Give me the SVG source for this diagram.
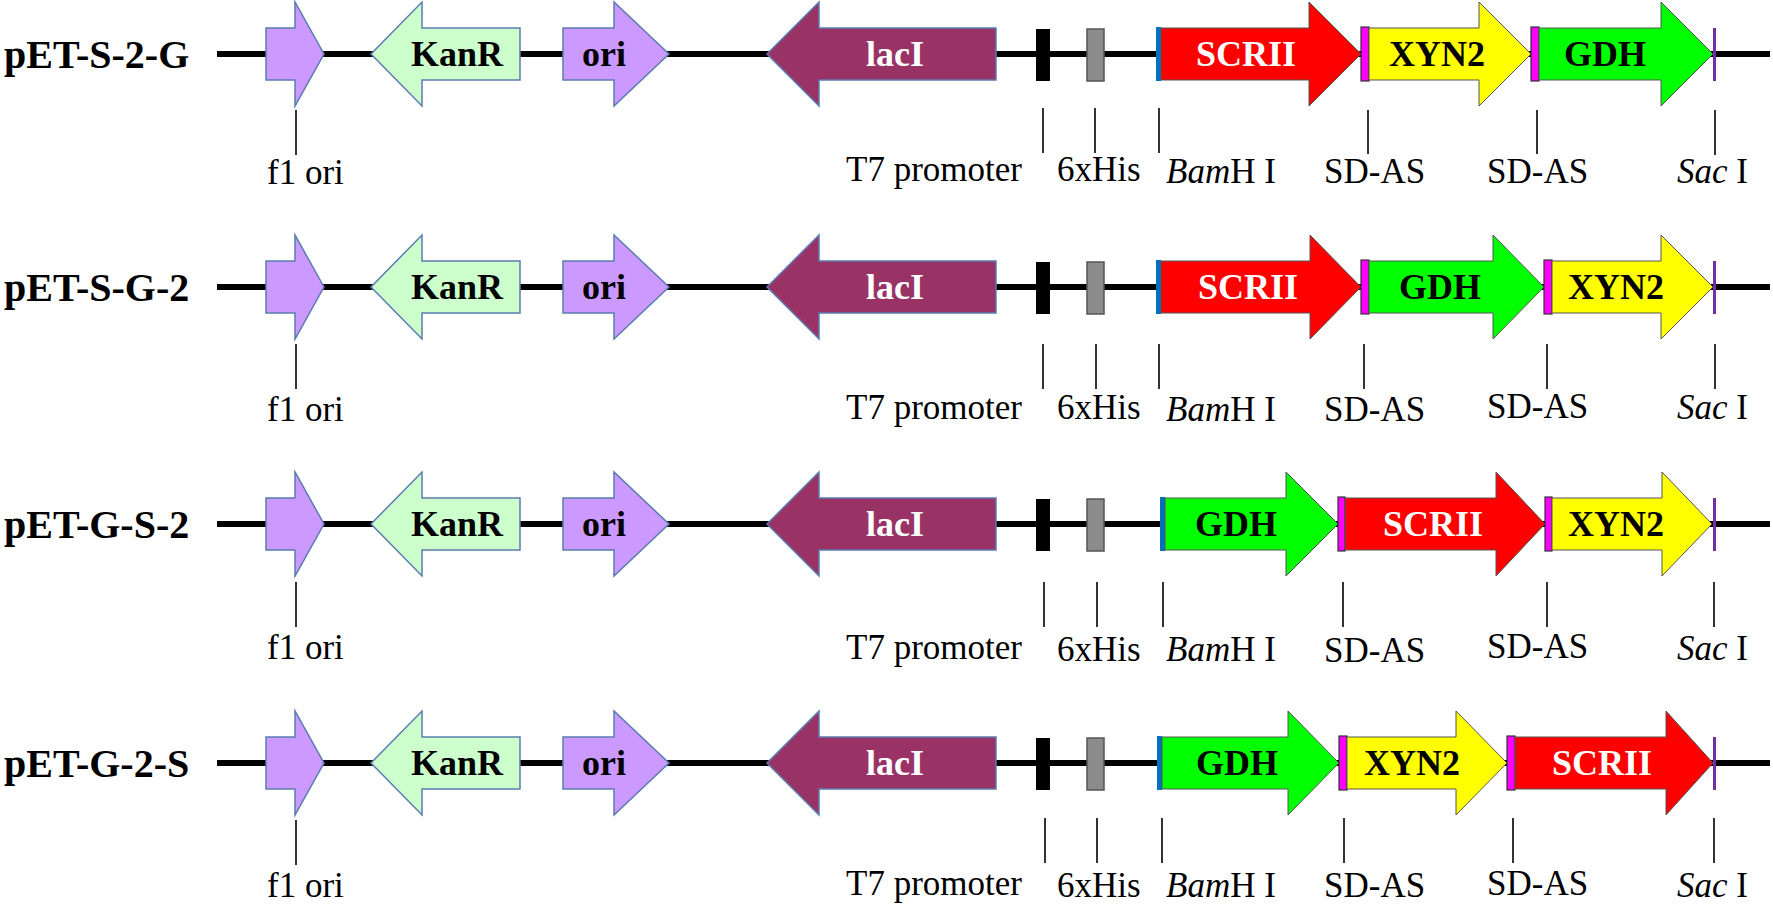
<svg xmlns="http://www.w3.org/2000/svg" width="1773" height="907" viewBox="0 0 1773 907">
<style>
.bb{stroke:#000;stroke-width:6;fill:none}
.tick{stroke:#333;stroke-width:2}
.lav{fill:#cc99ff;stroke:#5a7cb0;stroke-width:1.5}
.kan{fill:#ccffcc;stroke:#5a7cb0;stroke-width:1.5}
.lac{fill:#993366;stroke:#5a7cb0;stroke-width:1.5}
.red{fill:#ff0000;stroke:#555;stroke-width:1}
.yel{fill:#ffff00;stroke:#555;stroke-width:1}
.grn{fill:#00ff00;stroke:#555;stroke-width:1}
.mag{fill:#ff00ff;stroke:#333;stroke-width:1.2}
.bam{fill:#0070c0}
.sac{fill:#7030a0}
.t7{fill:#000}
.his{fill:#8c8c8c;stroke:#555;stroke-width:1.5}
.rl{font-family:"Liberation Serif","Times New Roman",serif;font-weight:bold;font-size:40px;fill:#000}
.gl{font-family:"Liberation Serif","Times New Roman",serif;font-weight:bold;font-size:36px;text-anchor:middle;fill:#000}
.gw{fill:#fff}
.ll{font-family:"Liberation Serif","Times New Roman",serif;font-size:35px;fill:#000}
.it{font-style:italic}
</style>

<g id="connectors">
<line class="bb" x1="217" y1="54" x2="1770" y2="54"/>
<line class="bb" x1="217" y1="287" x2="1770" y2="287"/>
<line class="bb" x1="217" y1="524" x2="1770" y2="524"/>
<line class="bb" x1="217" y1="763" x2="1770" y2="763"/>
<g class="tick">
<line x1="296" y1="110" x2="296" y2="155"/><line x1="1043" y1="108" x2="1043" y2="153"/><line x1="1095" y1="108" x2="1095" y2="153"/><line x1="1159" y1="108" x2="1159" y2="153"/><line x1="1368" y1="110" x2="1368" y2="154"/><line x1="1537" y1="110" x2="1537" y2="154"/><line x1="1715" y1="110" x2="1715" y2="155"/>
<line x1="296" y1="344" x2="296" y2="389"/><line x1="1043" y1="344" x2="1043" y2="389"/><line x1="1096" y1="344" x2="1096" y2="389"/><line x1="1159" y1="344" x2="1159" y2="389"/><line x1="1364" y1="344" x2="1364" y2="389"/><line x1="1547" y1="344" x2="1547" y2="389"/><line x1="1715" y1="344" x2="1715" y2="389"/>
<line x1="296" y1="582" x2="296" y2="627"/><line x1="1044" y1="582" x2="1044" y2="627"/><line x1="1097" y1="582" x2="1097" y2="627"/><line x1="1163" y1="582" x2="1163" y2="627"/><line x1="1343" y1="582" x2="1343" y2="627"/><line x1="1547" y1="582" x2="1547" y2="627"/><line x1="1714" y1="582" x2="1714" y2="627"/>
<line x1="296" y1="820" x2="296" y2="865"/><line x1="1045" y1="818" x2="1045" y2="863"/><line x1="1097" y1="818" x2="1097" y2="863"/><line x1="1162" y1="818" x2="1162" y2="863"/><line x1="1344" y1="818" x2="1344" y2="863"/><line x1="1513" y1="818" x2="1513" y2="863"/><line x1="1714" y1="818" x2="1714" y2="863"/>
</g>
</g>

<!-- Row 1 -->
<g id="row1">
<g id="r1-name"><text class="rl" x="4" y="68">pET-S-2-G</text></g>
<g id="r1-f1"><polygon class="lav" points="266,28 295,28 295,2 324,54 295,106 295,80 266,80"/></g>
<g id="r1-kanr"><polygon class="kan" points="371,54 422,2 422,28 520,28 520,80 422,80 422,106"/><text class="gl" x="457" y="66">KanR</text></g>
<g id="r1-ori"><polygon class="lav" points="563,28 614,28 614,2 669,54 614,106 614,80 563,80"/><text class="gl" x="604" y="66">ori</text></g>
<g id="r1-laci"><polygon class="lac" points="767,54 819,2 819,28 996,28 996,80 819,80 819,106"/><text class="gl gw" x="895" y="66">lacI</text></g>
<g id="r1-t7"><rect class="t7" x="1036" y="29" width="14" height="52"/></g>
<g id="r1-his"><rect class="his" x="1087" y="29" width="17" height="52"/></g>
<g id="r1-bam"><rect class="bam" x="1156" y="27" width="5" height="54"/></g>
<g id="r1-scrii"><polygon class="red" points="1161,28 1309,28 1309,2 1361,54 1309,106 1309,80 1161,80"/><text class="gl gw" x="1246" y="66">SCRII</text></g>
<g id="r1-sd1"><rect class="mag" x="1361" y="27" width="8" height="54"/></g>
<g id="r1-xyn2"><polygon class="yel" points="1369,28 1479,28 1479,2 1531,54 1479,106 1479,80 1369,80"/><text class="gl" x="1437" y="66">XYN2</text></g>
<g id="r1-sd2"><rect class="mag" x="1531" y="27" width="8" height="54"/></g>
<g id="r1-gdh"><polygon class="grn" points="1539,28 1661,28 1661,2 1713,54 1661,106 1661,80 1539,80"/><text class="gl" x="1605" y="66">GDH</text></g>
<g id="r1-sac"><rect class="sac" x="1713" y="28" width="3" height="53"/></g>
<g id="r1-labels" class="ll">
<text x="267" y="184">f1 ori</text><text x="846" y="181">T7 promoter</text><text x="1057" y="181">6xHis</text><text x="1166" y="183"><tspan class="it">Bam</tspan>H I</text><text x="1324" y="183">SD-AS</text><text x="1487" y="183">SD-AS</text><text x="1677" y="183"><tspan class="it">Sac</tspan> I</text>
</g>
</g>

<!-- Row 2 -->
<g id="row2">
<g id="r2-name"><text class="rl" x="4" y="301">pET-S-G-2</text></g>
<g id="r2-f1"><polygon class="lav" points="266,261 295,261 295,235 324,287 295,339 295,313 266,313"/></g>
<g id="r2-kanr"><polygon class="kan" points="371,287 422,235 422,261 520,261 520,313 422,313 422,339"/><text class="gl" x="457" y="299">KanR</text></g>
<g id="r2-ori"><polygon class="lav" points="563,261 614,261 614,235 669,287 614,339 614,313 563,313"/><text class="gl" x="604" y="299">ori</text></g>
<g id="r2-laci"><polygon class="lac" points="767,287 819,235 819,261 996,261 996,313 819,313 819,339"/><text class="gl gw" x="895" y="299">lacI</text></g>
<g id="r2-t7"><rect class="t7" x="1036" y="262" width="14" height="52"/></g>
<g id="r2-his"><rect class="his" x="1087" y="262" width="17" height="52"/></g>
<g id="r2-bam"><rect class="bam" x="1156" y="260" width="5" height="54"/></g>
<g id="r2-scrii"><polygon class="red" points="1161,261 1310,261 1310,235 1361,287 1310,339 1310,313 1161,313"/><text class="gl gw" x="1248" y="299">SCRII</text></g>
<g id="r2-sd1"><rect class="mag" x="1361" y="260" width="8" height="54"/></g>
<g id="r2-gdh"><polygon class="grn" points="1369,261 1493,261 1493,235 1544,287 1493,339 1493,313 1369,313"/><text class="gl" x="1440" y="299">GDH</text></g>
<g id="r2-sd2"><rect class="mag" x="1544" y="260" width="8" height="54"/></g>
<g id="r2-xyn2"><polygon class="yel" points="1552,261 1661,261 1661,235 1713,287 1661,339 1661,313 1552,313"/><text class="gl" x="1616" y="299">XYN2</text></g>
<g id="r2-sac"><rect class="sac" x="1713" y="261" width="3" height="53"/></g>
<g id="r2-labels" class="ll">
<text x="267" y="421">f1 ori</text><text x="846" y="419">T7 promoter</text><text x="1057" y="419">6xHis</text><text x="1166" y="421"><tspan class="it">Bam</tspan>H I</text><text x="1324" y="421">SD-AS</text><text x="1487" y="418">SD-AS</text><text x="1677" y="419"><tspan class="it">Sac</tspan> I</text>
</g>
</g>

<!-- Row 3 -->
<g id="row3">
<g id="r3-name"><text class="rl" x="4" y="538">pET-G-S-2</text></g>
<g id="r3-f1"><polygon class="lav" points="266,498 295,498 295,472 324,524 295,576 295,550 266,550"/></g>
<g id="r3-kanr"><polygon class="kan" points="371,524 422,472 422,498 520,498 520,550 422,550 422,576"/><text class="gl" x="457" y="536">KanR</text></g>
<g id="r3-ori"><polygon class="lav" points="563,498 614,498 614,472 669,524 614,576 614,550 563,550"/><text class="gl" x="604" y="536">ori</text></g>
<g id="r3-laci"><polygon class="lac" points="767,524 819,472 819,498 996,498 996,550 819,550 819,576"/><text class="gl gw" x="895" y="536">lacI</text></g>
<g id="r3-t7"><rect class="t7" x="1036" y="499" width="14" height="52"/></g>
<g id="r3-his"><rect class="his" x="1087" y="499" width="17" height="52"/></g>
<g id="r3-bam"><rect class="bam" x="1160" y="497" width="5" height="54"/></g>
<g id="r3-gdh"><polygon class="grn" points="1165,498 1286,498 1286,472 1338,524 1286,576 1286,550 1165,550"/><text class="gl" x="1236" y="536">GDH</text></g>
<g id="r3-sd1"><rect class="mag" x="1338" y="497" width="7" height="54"/></g>
<g id="r3-scrii"><polygon class="red" points="1345,498 1496,498 1496,472 1545,524 1496,576 1496,550 1345,550"/><text class="gl gw" x="1433" y="536">SCRII</text></g>
<g id="r3-sd2"><rect class="mag" x="1545" y="497" width="7" height="54"/></g>
<g id="r3-xyn2"><polygon class="yel" points="1552,498 1662,498 1662,472 1712,524 1662,576 1662,550 1552,550"/><text class="gl" x="1616" y="536">XYN2</text></g>
<g id="r3-sac"><rect class="sac" x="1713" y="498" width="3" height="53"/></g>
<g id="r3-labels" class="ll">
<text x="267" y="659">f1 ori</text><text x="846" y="659">T7 promoter</text><text x="1057" y="661">6xHis</text><text x="1166" y="661"><tspan class="it">Bam</tspan>H I</text><text x="1324" y="662">SD-AS</text><text x="1487" y="658">SD-AS</text><text x="1677" y="660"><tspan class="it">Sac</tspan> I</text>
</g>
</g>

<!-- Row 4 -->
<g id="row4">
<g id="r4-name"><text class="rl" x="4" y="777">pET-G-2-S</text></g>
<g id="r4-f1"><polygon class="lav" points="266,737 295,737 295,711 324,763 295,815 295,789 266,789"/></g>
<g id="r4-kanr"><polygon class="kan" points="371,763 422,711 422,737 520,737 520,789 422,789 422,815"/><text class="gl" x="457" y="775">KanR</text></g>
<g id="r4-ori"><polygon class="lav" points="563,737 614,737 614,711 669,763 614,815 614,789 563,789"/><text class="gl" x="604" y="775">ori</text></g>
<g id="r4-laci"><polygon class="lac" points="767,763 819,711 819,737 996,737 996,789 819,789 819,815"/><text class="gl gw" x="895" y="775">lacI</text></g>
<g id="r4-t7"><rect class="t7" x="1036" y="738" width="14" height="52"/></g>
<g id="r4-his"><rect class="his" x="1087" y="738" width="17" height="52"/></g>
<g id="r4-bam"><rect class="bam" x="1157" y="736" width="5" height="54"/></g>
<g id="r4-gdh"><polygon class="grn" points="1162,737 1288,737 1288,711 1339,763 1288,815 1288,789 1162,789"/><text class="gl" x="1237" y="775">GDH</text></g>
<g id="r4-sd1"><rect class="mag" x="1339" y="736" width="8" height="54"/></g>
<g id="r4-xyn2"><polygon class="yel" points="1347,737 1456,737 1456,711 1507,763 1456,815 1456,789 1347,789"/><text class="gl" x="1412" y="775">XYN2</text></g>
<g id="r4-sd2"><rect class="mag" x="1507" y="736" width="8" height="54"/></g>
<g id="r4-scrii"><polygon class="red" points="1515,737 1666,737 1666,711 1713,763 1666,815 1666,789 1515,789"/><text class="gl gw" x="1602" y="775">SCRII</text></g>
<g id="r4-sac"><rect class="sac" x="1713" y="737" width="3" height="53"/></g>
<g id="r4-labels" class="ll">
<text x="267" y="897">f1 ori</text><text x="846" y="895">T7 promoter</text><text x="1057" y="897">6xHis</text><text x="1166" y="897"><tspan class="it">Bam</tspan>H I</text><text x="1324" y="897">SD-AS</text><text x="1487" y="895">SD-AS</text><text x="1677" y="897"><tspan class="it">Sac</tspan> I</text>
</g>
</g>
</svg>
